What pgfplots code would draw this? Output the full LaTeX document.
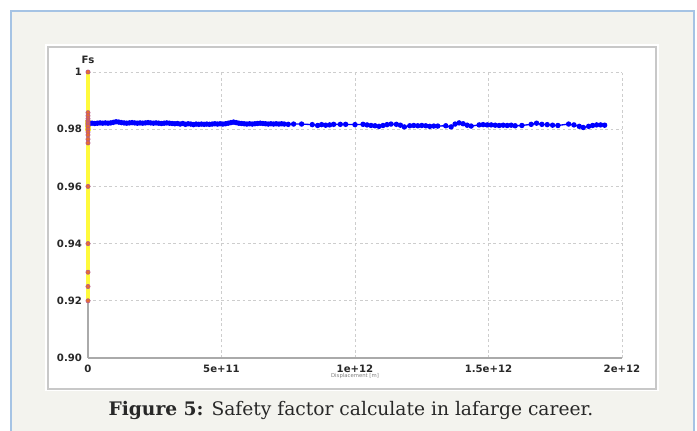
\documentclass[border=0pt]{standalone}
\usepackage{pgfplots}
\pgfplotsset{compat=1.18}
\usepackage{fontspec}
\setmainfont{DejaVu Serif}
\setsansfont{DejaVu Sans}
\definecolor{framebg}{RGB}{243,243,238}
\definecolor{frameblue}{RGB}{165,195,228}
\definecolor{panelgray}{RGB}{200,200,200}
\definecolor{gridgray}{RGB}{205,205,205}
\definecolor{axgray}{RGB}{170,170,170}
\definecolor{ptorange}{RGB}{232,110,45}
\definecolor{ptedge}{RGB}{175,85,150}
\definecolor{ylw}{RGB}{255,250,60}
\definecolor{txt}{RGB}{40,40,40}
\begin{document}
\begin{tikzpicture}[x=0.75pt,y=0.75pt]
\path[use as bounding box] (0,0) rectangle (697,430);
\begin{scope}
\clip (0,0) rectangle (697,430);
\fill[white] (0,0) rectangle (697,430);
\filldraw[fill=framebg,draw=frameblue,line width=0.9pt] (11,-10) rectangle (694,419);
\fill[white] (45,39) rectangle (659,386);
\draw[panelgray,line width=0.8pt] (48,41) rectangle (656,383);
\end{scope}
\begin{axis}[
  at={(66pt,54pt)}, anchor=south west,
  scale only axis, width=400.5pt, height=214.5pt,
  xmin=0, xmax=2, ymin=0.9, ymax=1,
  clip=false,
  axis x line=bottom, axis y line=left,
  axis line style={-,axgray,line width=0.8pt},
  major tick length=0pt,
  grid=major,
  major grid style={gridgray,line width=0.6pt,dash pattern=on 2pt off 2pt},
  xtick={0,0.5,1,1.5,2},
  xticklabels={0,5e+11,1e+12,1.5e+12,2e+12},
  ytick={0.9,0.92,0.94,0.96,0.98,1},
  yticklabels={0.90,0.92,0.94,0.96,0.98,1},
  ticklabel style={font=\sffamily\bfseries\fontsize{7.6}{9}\selectfont, text=txt},
  xticklabel style={yshift=-2pt},
  yticklabel style={xshift=-1pt},
]
\addplot[blue, line width=1pt, mark=*, mark size=1.5pt, mark options={fill=blue,draw=blue}] coordinates {
(0.005,0.9820)(0.015,0.9821)(0.025,0.9820)(0.035,0.9821)(0.045,0.9822)(0.055,0.9821)
(0.065,0.9822)(0.075,0.9821)(0.085,0.9822)(0.095,0.9824)(0.105,0.9826)(0.115,0.9825)
(0.125,0.9823)(0.135,0.9822)(0.145,0.9821)(0.155,0.9822)(0.165,0.9823)(0.175,0.9822)
(0.185,0.9821)(0.195,0.9822)(0.205,0.9821)(0.215,0.9822)(0.225,0.9823)(0.235,0.9822)
(0.245,0.9821)(0.255,0.9822)(0.265,0.9821)(0.275,0.9820)(0.285,0.9821)(0.295,0.9822)
(0.305,0.9821)(0.315,0.9820)(0.325,0.9819)(0.335,0.9820)(0.345,0.9818)(0.355,0.9820)
(0.365,0.9817)(0.375,0.9819)(0.385,0.9818)(0.395,0.9816)(0.405,0.9818)(0.415,0.9817)
(0.425,0.9818)(0.435,0.9817)(0.445,0.9818)(0.455,0.9817)(0.465,0.9818)(0.475,0.9819)
(0.485,0.9818)(0.495,0.9819)(0.505,0.9818)(0.515,0.9819)(0.525,0.9821)(0.535,0.9823)
(0.545,0.9825)(0.555,0.9823)(0.565,0.9821)(0.575,0.9820)(0.585,0.9819)(0.595,0.9818)
(0.605,0.9819)(0.615,0.9818)(0.625,0.9819)(0.635,0.9820)(0.645,0.9821)(0.655,0.9820)
(0.665,0.9819)(0.675,0.9818)(0.685,0.9819)(0.695,0.9818)(0.705,0.9819)(0.715,0.9818)
(0.725,0.9819)(0.735,0.9818)(0.750,0.9817)(0.770,0.9818)(0.800,0.9818)(0.840,0.9816)
(0.860,0.9813)(0.875,0.9816)(0.890,0.9814)(0.905,0.9815)(0.920,0.9817)(0.945,0.9817)
(0.965,0.9817)(1.000,0.9816)(1.030,0.9817)(1.045,0.9815)(1.060,0.9813)(1.075,0.9812)
(1.090,0.9810)(1.105,0.9813)(1.120,0.9816)(1.135,0.9818)(1.155,0.9817)(1.170,0.9814)
(1.185,0.9808)(1.205,0.9812)(1.220,0.9813)(1.235,0.9812)(1.250,0.9813)(1.265,0.9812)
(1.280,0.9810)(1.295,0.9811)(1.310,0.9811)(1.340,0.9812)(1.360,0.9808)(1.375,0.9818)
(1.390,0.9822)(1.405,0.9819)(1.420,0.9814)(1.435,0.9811)(1.465,0.9815)(1.480,0.9816)
(1.495,0.9815)(1.510,0.9815)(1.525,0.9814)(1.540,0.9813)(1.555,0.9814)(1.570,0.9813)
(1.585,0.9814)(1.600,0.9812)(1.625,0.9813)(1.660,0.9817)(1.680,0.9821)(1.700,0.9817)
(1.720,0.9816)(1.740,0.9814)(1.760,0.9813)(1.800,0.9818)(1.820,0.9815)(1.840,0.9810)
(1.855,0.9806)(1.875,0.9810)(1.890,0.9813)(1.905,0.9815)(1.920,0.9815)(1.935,0.9814)
};
\addplot[ylw, line width=2.4pt] coordinates {(0,0.92)(0,1)};
\addplot[ylw, line width=4.5pt] coordinates {(0,0.9795)(0,0.9832)};
\addplot[only marks, mark=*, mark size=1.6pt, mark options={fill=ptorange,draw=ptedge,line width=0.4pt}] coordinates {
(0,1)(0,0.9858)(0,0.9847)(0,0.9837)(0,0.9830)(0,0.9825)(0,0.9820)(0,0.9815)(0,0.9810)
(0,0.9800)(0,0.9790)(0,0.9780)(0,0.9765)(0,0.9752)(0,0.96)(0,0.94)(0,0.93)(0,0.925)(0,0.92)
};
\node[font=\sffamily\bfseries\fontsize{7.6}{9}\selectfont, text=txt] at (axis cs:0,1) [yshift=9pt] {Fs};
\node[font=\sffamily\fontsize{4}{5}\selectfont, text=gray] at (axis cs:1,0.9) [yshift=-13.5pt] {Displacement [m]};
\end{axis}
\node[font=\fontsize{14}{16}\selectfont, text=txt] at (351,20) {\textbf{Figure 5:} Safety factor calculate in lafarge career.};
\end{tikzpicture}
\end{document}
